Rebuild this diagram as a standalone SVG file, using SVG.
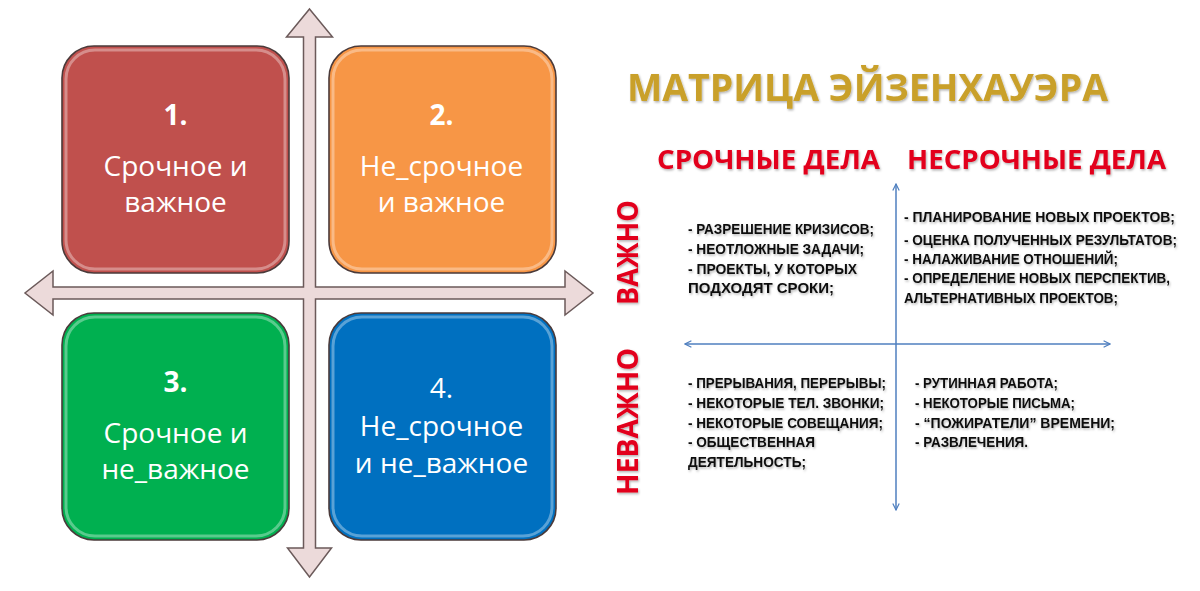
<svg xmlns="http://www.w3.org/2000/svg" width="1200" height="591" viewBox="0 0 1200 591">
<style>
.box{stroke:#4a3a3a;stroke-width:1.6}
.gloss{fill:none;stroke:#ffffff;stroke-opacity:0.35;stroke-width:3}
.bt{font-family:"Open Sans","Noto Sans",sans-serif;font-size:28px;fill:#ffffff;text-anchor:middle}
.bn{font-weight:bold}
.title{font-family:"Open Sans","Noto Sans",sans-serif;font-weight:bold;font-size:37px;fill:#c9a02c}
.hdr{font-family:"Open Sans","Noto Sans",sans-serif;font-weight:bold;font-size:27px;fill:#e2061c}
.side{font-family:"Open Sans","Noto Sans",sans-serif;font-weight:bold;font-size:28px;fill:#e2061c}
.li{font-family:"Liberation Sans","Noto Sans",sans-serif;font-weight:bold;font-size:15.5px;fill:#111111}
.axis{stroke:#4f7fbf;stroke-width:1.5;fill:none}
</style>
<defs>
<filter id="sh" x="-5%" y="-20%" width="110%" height="150%">
<feDropShadow dx="1" dy="1.5" stdDeviation="1" flood-color="#000000" flood-opacity="0.3"/>
</filter>
<marker id="ah" viewBox="0 0 10 10" refX="9" refY="5" markerWidth="8" markerHeight="8" orient="auto-start-reverse" markerUnits="userSpaceOnUse">
<path d="M1,1 L9,5 L1,9" fill="none" stroke="#4f7fbf" stroke-width="1.5"/>
</marker>
</defs>
<rect width="1200" height="591" fill="#ffffff"/>

<g id="cross">
<path d="M309.5,9 L332.5,37 L315.5,37 L315.5,287 L565,287 L565,271 L593,293 L565,315 L565,299 L315.5,299 L315.5,548 L331.5,548 L309.5,577 L287.5,548 L303.5,548 L303.5,299 L53,299 L53,315 L25,293 L53,271 L53,287 L303.5,287 L303.5,37 L286.5,37 Z" fill="#ecdada" stroke="#6b5a5a" stroke-width="1.5" stroke-linejoin="miter"/>
</g>

<g id="box1">
<rect class="box" x="62" y="46" width="227" height="227" rx="32" fill="#c0504d"/>
<rect class="gloss" x="66" y="50" width="219" height="219" rx="29"/>
<text class="bt bn" x="175.5" y="125">1.</text>
<text class="bt" x="175.5" y="176">Срочное и</text>
<text class="bt" x="175.5" y="212">важное</text>
</g>
<g id="box2">
<rect class="box" x="329" y="46" width="227" height="227" rx="32" fill="#f79646"/>
<rect class="gloss" x="333" y="50" width="219" height="219" rx="29"/>
<text class="bt bn" x="441.5" y="125">2.</text>
<text class="bt" x="441.5" y="176">Не_срочное</text>
<text class="bt" x="441.5" y="212">и важное</text>
</g>
<g id="box3">
<rect class="box" x="62" y="313" width="227" height="227" rx="32" fill="#00b050"/>
<rect class="gloss" x="66" y="317" width="219" height="219" rx="29"/>
<text class="bt bn" x="175.5" y="392">3.</text>
<text class="bt" x="175.5" y="443">Срочное и</text>
<text class="bt" x="175.5" y="479">не_важное</text>
</g>
<g id="box4">
<rect class="box" x="329" y="313" width="227" height="227" rx="32" fill="#0070c0"/>
<rect class="gloss" x="333" y="317" width="219" height="219" rx="29"/>
<text class="bt" x="441.5" y="398">4.</text>
<text class="bt" x="441.5" y="436">Не_срочное</text>
<text class="bt" x="441.5" y="473">и не_важное</text>
</g>

<g id="title" filter="url(#sh)">
<text class="title" x="627" y="101" textLength="481" lengthAdjust="spacingAndGlyphs">МАТРИЦА ЭЙЗЕНХАУЭРА</text>
</g>
<g id="headers" filter="url(#sh)">
<text class="hdr" x="657" y="169" textLength="223" lengthAdjust="spacingAndGlyphs">СРОЧНЫЕ ДЕЛА</text>
<text class="hdr" x="907" y="169" textLength="259" lengthAdjust="spacingAndGlyphs">НЕСРОЧНЫЕ ДЕЛА</text>
</g>
<g id="side-labels" filter="url(#sh)">
<text class="side" transform="translate(638,305) rotate(-90)" textLength="105" lengthAdjust="spacingAndGlyphs">ВАЖНО</text>
<text class="side" transform="translate(638,495) rotate(-90)" textLength="147" lengthAdjust="spacingAndGlyphs">НЕВАЖНО</text>
</g>

<g id="connectors">
<line class="axis" x1="896" y1="510" x2="896" y2="184" marker-start="url(#ah)" marker-end="url(#ah)"/>
<line class="axis" x1="685" y1="344" x2="1110" y2="344" marker-start="url(#ah)" marker-end="url(#ah)"/>
</g>

<g id="q1" filter="url(#sh)">
<text class="li" transform="translate(688,234) scale(0.86,1)" textLength="216.3" lengthAdjust="spacingAndGlyphs">- РАЗРЕШЕНИЕ КРИЗИСОВ;</text>
<text class="li" transform="translate(688,254) scale(0.86,1)" textLength="204.7" lengthAdjust="spacingAndGlyphs">- НЕОТЛОЖНЫЕ ЗАДАЧИ;</text>
<text class="li" transform="translate(688,274) scale(0.86,1)" textLength="196.5" lengthAdjust="spacingAndGlyphs">- ПРОЕКТЫ, У КОТОРЫХ</text>
<text class="li" transform="translate(688,293) scale(0.86,1)" textLength="169.8" lengthAdjust="spacingAndGlyphs">ПОДХОДЯТ СРОКИ;</text>
</g>
<g id="q2" filter="url(#sh)">
<text class="li" transform="translate(904,222) scale(0.86,1)" textLength="315.1" lengthAdjust="spacingAndGlyphs">- ПЛАНИРОВАНИЕ НОВЫХ  ПРОЕКТОВ;</text>
<text class="li" transform="translate(904,245) scale(0.86,1)" textLength="317.4" lengthAdjust="spacingAndGlyphs">- ОЦЕНКА ПОЛУЧЕННЫХ РЕЗУЛЬТАТОВ;</text>
<text class="li" transform="translate(904,264) scale(0.86,1)" textLength="248.8" lengthAdjust="spacingAndGlyphs">- НАЛАЖИВАНИЕ ОТНОШЕНИЙ;</text>
<text class="li" transform="translate(904,283) scale(0.86,1)" textLength="309.3" lengthAdjust="spacingAndGlyphs">- ОПРЕДЕЛЕНИЕ НОВЫХ ПЕРСПЕКТИВ,</text>
<text class="li" transform="translate(904,303) scale(0.86,1)" textLength="248.8" lengthAdjust="spacingAndGlyphs">АЛЬТЕРНАТИВНЫХ ПРОЕКТОВ;</text>
</g>
<g id="q3" filter="url(#sh)">
<text class="li" transform="translate(688,388) scale(0.86,1)" textLength="230.2" lengthAdjust="spacingAndGlyphs">- ПРЕРЫВАНИЯ, ПЕРЕРЫВЫ;</text>
<text class="li" transform="translate(688,408) scale(0.86,1)" textLength="227.9" lengthAdjust="spacingAndGlyphs">- НЕКОТОРЫЕ ТЕЛ. ЗВОНКИ;</text>
<text class="li" transform="translate(688,428) scale(0.86,1)" textLength="226.7" lengthAdjust="spacingAndGlyphs">- НЕКОТОРЫЕ СОВЕЩАНИЯ;</text>
<text class="li" transform="translate(688,447) scale(0.86,1)" textLength="147.7" lengthAdjust="spacingAndGlyphs">- ОБЩЕСТВЕННАЯ</text>
<text class="li" transform="translate(688,467) scale(0.86,1)" textLength="137.2" lengthAdjust="spacingAndGlyphs">ДЕЯТЕЛЬНОСТЬ;</text>
</g>
<g id="q4" filter="url(#sh)">
<text class="li" transform="translate(915,388) scale(0.86,1)" textLength="166.3" lengthAdjust="spacingAndGlyphs">- РУТИННАЯ РАБОТА;</text>
<text class="li" transform="translate(915,408) scale(0.86,1)" textLength="186" lengthAdjust="spacingAndGlyphs">- НЕКОТОРЫЕ ПИСЬМА;</text>
<text class="li" transform="translate(915,428) scale(0.86,1)" textLength="232.6" lengthAdjust="spacingAndGlyphs">- “ПОЖИРАТЕЛИ” ВРЕМЕНИ;</text>
<text class="li" transform="translate(915,447) scale(0.86,1)" textLength="131.4" lengthAdjust="spacingAndGlyphs">- РАЗВЛЕЧЕНИЯ.</text>
</g>
</svg>
